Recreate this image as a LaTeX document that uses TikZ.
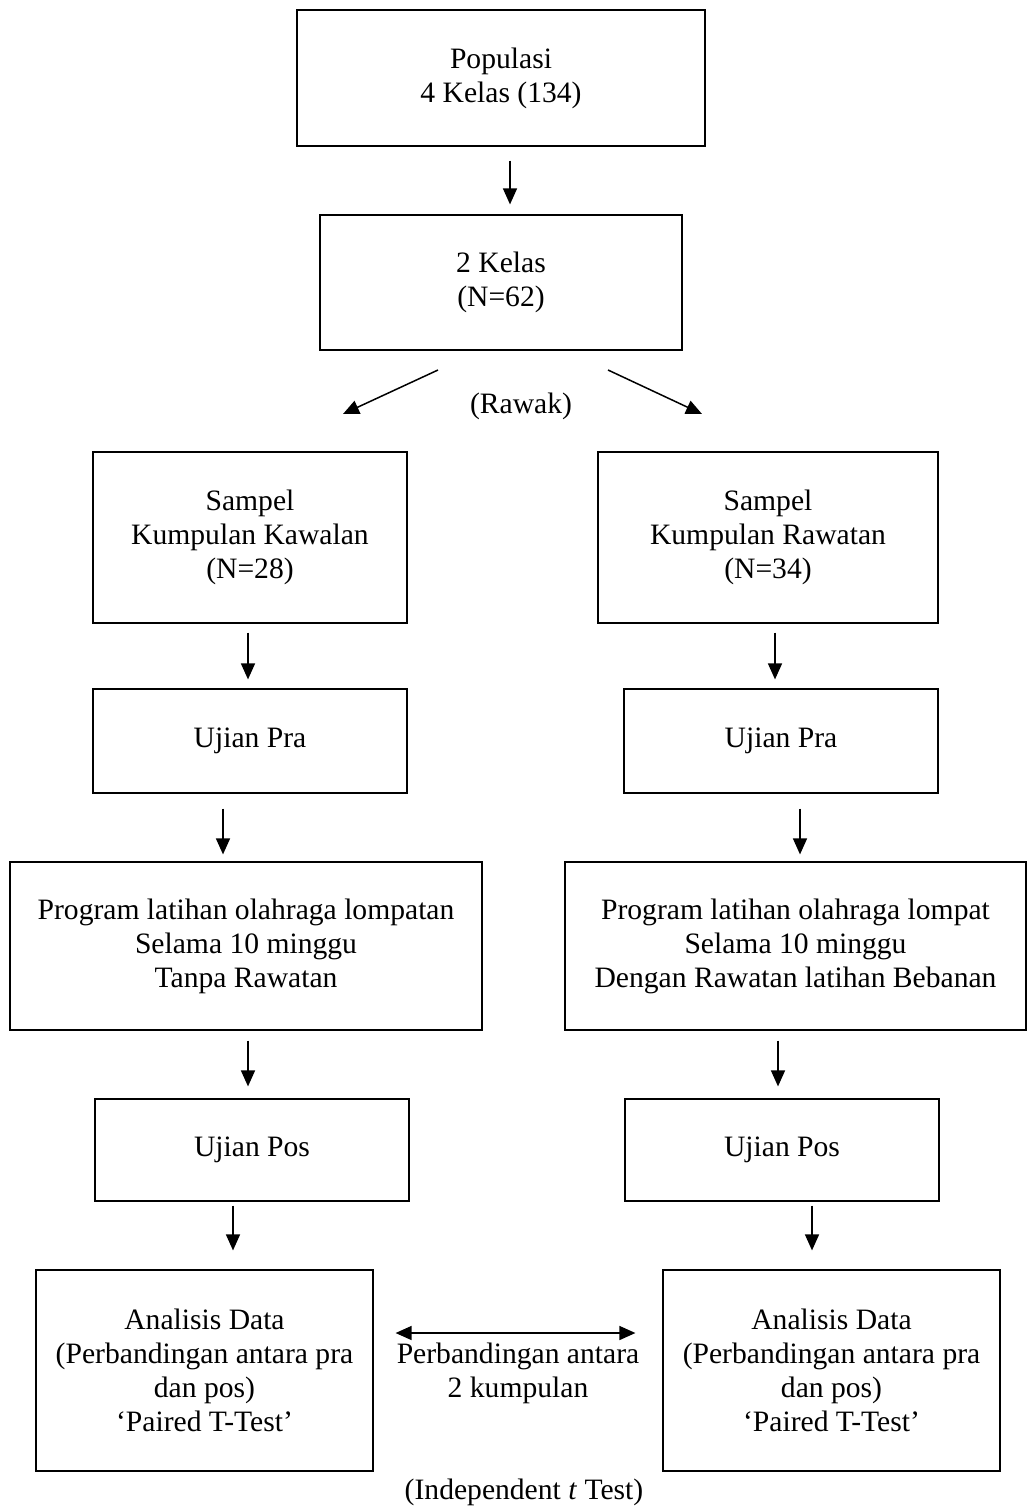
\documentclass[tikz,border=0pt]{standalone}
\usepackage{fontspec}
\setmainfont{Liberation Serif}
\usepackage{tikz}
\usetikzlibrary{arrows.meta}

\begin{document}
\fontsize{14.8}{17}\selectfont
\begin{tikzpicture}[x=0.5pt,y=-0.5pt]
\tikzstyle{every node}+=[inner sep=0pt,font=\fontsize{14.8}{17}\selectfont]
\tikzstyle{box}=[draw=black,line width=0.6pt,align=center]
\tikzstyle{arr}=[line width=0.75pt,-{Triangle[length=8pt,width=7pt]}]
\useasboundingbox (0,0) rectangle (1027,1508);
% top
\node [box,minimum width=204pt,minimum height=68pt] (pop) at (501,78) {Populasi\\4 Kelas (134)};
\node [box,minimum width=181pt,minimum height=67.5pt] (kelas) at (501,282.5) {2 Kelas\\(N=62)};
\draw (521,406) node (rawak) {(Rawak)};
\coordinate (rl1) at (438,370);
\coordinate (rl2) at (343,414);
\coordinate (rr1) at (608,370);
\coordinate (rr2) at (702,414);
% left column
\node [box,minimum width=157pt,minimum height=85.5pt] (sampL) at (250,537.5) {Sampel\\Kumpulan Kawalan\\(N=28)};
\node [box,minimum width=157pt,minimum height=52pt] (praL) at (250,741) {Ujian Pra};
\node [box,minimum width=236pt,minimum height=84pt] (progL) at (246,946) {Program latihan olahraga lompatan\\Selama 10 minggu\\Tanpa Rawatan};
\node [box,minimum width=157pt,minimum height=51pt] (posL) at (252,1150) {Ujian Pos};
\node [box,minimum width=168.5pt,minimum height=100.5pt] (anaL) at (204.5,1370.5) {Analisis Data\\(Perbandingan antara pra\\dan pos)\\`Paired T-Test'};
% right column
\node [box,minimum width=170pt,minimum height=85.5pt] (sampR) at (768,537.5) {Sampel\\Kumpulan Rawatan\\(N=34)};
\node [box,minimum width=157pt,minimum height=52pt] (praR) at (781,741) {Ujian Pra};
\node [box,minimum width=230.5pt,minimum height=84pt] (progR) at (795.5,946) {Program latihan olahraga lompat\\Selama 10 minggu\\Dengan Rawatan latihan Bebanan};
\node [box,minimum width=157pt,minimum height=51pt] (posR) at (782,1150) {Ujian Pos};
\node [box,minimum width=168.5pt,minimum height=100.5pt] (anaR) at (831.5,1370.5) {Analisis Data\\(Perbandingan antara pra\\dan pos)\\`Paired T-Test'};
% middle texts
\draw (518,1373.5) node [align=center] (banding) {Perbandingan antara\\2 kumpulan};
\draw (524,1492) node (indep) {(Independent \textit{t} Test)};
% arrows
\draw [arr,shorten <=7pt,shorten >=5pt] (pop.south -| 510,0) -- (kelas.north -| 510,0);
\draw [arr] (rl1) -- (rl2);
\draw [arr] (rr1) -- (rr2);
\draw [arr,shorten <=4.5pt,shorten >=4.5pt] (sampL.south -| 248,0) -- (praL.north -| 248,0);
\draw [arr,shorten <=4.5pt,shorten >=4.5pt] (sampR.south -| 775,0) -- (praR.north -| 775,0);
\draw [arr,shorten <=7.5pt,shorten >=3.5pt] (praL.south -| 223,0) -- (progL.north -| 223,0);
\draw [arr,shorten <=7.5pt,shorten >=3.5pt] (praR.south -| 800,0) -- (progR.north -| 800,0);
\draw [arr,shorten <=5pt,shorten >=6pt] (progL.south -| 248,0) -- (posL.north -| 248,0);
\draw [arr,shorten <=5pt,shorten >=6pt] (progR.south -| 778,0) -- (posR.north -| 778,0);
\draw [arr,shorten <=2pt,shorten >=9.5pt] (posL.south -| 233,0) -- (anaL.north -| 233,0);
\draw [arr,shorten <=2pt,shorten >=9.5pt] (posR.south -| 812,0) -- (anaR.north -| 812,0);
\draw [line width=0.75pt,{Triangle[length=8pt,width=7pt]}-{Triangle[length=8pt,width=7pt]},shorten <=11pt,shorten >=13.5pt] (anaL.east |- 0,1333) -- (anaR.west |- 0,1333);
\end{tikzpicture}
\end{document}
